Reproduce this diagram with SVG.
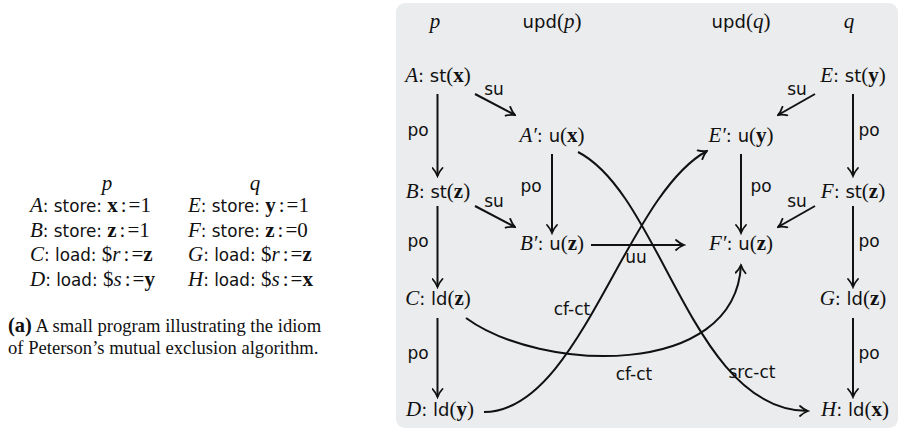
<svg xmlns="http://www.w3.org/2000/svg" width="900" height="431" viewBox="0 0 900 431">
<style>
.mi{font-family:"Liberation Serif",serif;font-style:italic}
.rm{font-family:"Liberation Serif",serif}
.bf{font-family:"Liberation Serif",serif;font-weight:bold}
.sf{font-family:"DejaVu Sans","Liberation Sans",sans-serif}
.node{font-size:21px;fill:#111}
.node .sf{font-size:18px}
.hdr{font-size:21px;fill:#111}
.hdr .sf{font-size:18px}
.lbl{font-family:"DejaVu Sans","Liberation Sans",sans-serif;font-size:17px;fill:#111}
.prog{font-size:21px;fill:#111}
.prog .sf{font-size:16.8px}
.cap{font-family:"Liberation Serif",serif;font-size:18.6px;fill:#111}
.e{fill:none;stroke:#111;stroke-width:2;marker-end:url(#ah)}
</style>
<defs>
<marker id="ah" viewBox="0 0 12 12" refX="10.5" refY="6" markerWidth="12" markerHeight="12" markerUnits="userSpaceOnUse" orient="auto">
<path d="M2.5,1 Q6,4.3 10.5,6 Q6,7.7 2.5,11" fill="none" stroke="#111" stroke-width="1.8" stroke-linecap="round"/>
</marker>
</defs>

<g id="program">
<text class="prog mi" x="107" y="190" text-anchor="middle">p</text>
<text class="prog mi" x="255" y="190" text-anchor="middle">q</text>
<text class="prog" x="30" y="212"><tspan class="mi">A</tspan><tspan class="sf">: store: </tspan><tspan class="bf">x</tspan><tspan class="rm" dx="3">:</tspan><tspan class="rm" dx="2">=1</tspan></text>
<text class="prog" x="30" y="236.5"><tspan class="mi">B</tspan><tspan class="sf">: store: </tspan><tspan class="bf">z</tspan><tspan class="rm" dx="3">:</tspan><tspan class="rm" dx="2">=1</tspan></text>
<text class="prog" x="30" y="261"><tspan class="mi">C</tspan><tspan class="sf">: load: </tspan><tspan class="rm">$</tspan><tspan class="mi">r</tspan><tspan class="rm" dx="3">:</tspan><tspan class="rm" dx="2">=</tspan><tspan class="bf">z</tspan></text>
<text class="prog" x="30" y="285.5"><tspan class="mi">D</tspan><tspan class="sf">: load: </tspan><tspan class="rm">$</tspan><tspan class="mi">s</tspan><tspan class="rm" dx="3">:</tspan><tspan class="rm" dx="2">=</tspan><tspan class="bf">y</tspan></text>
<text class="prog" x="188" y="212"><tspan class="mi">E</tspan><tspan class="sf">: store: </tspan><tspan class="bf">y</tspan><tspan class="rm" dx="3">:</tspan><tspan class="rm" dx="2">=1</tspan></text>
<text class="prog" x="188" y="236.5"><tspan class="mi">F</tspan><tspan class="sf">: store: </tspan><tspan class="bf">z</tspan><tspan class="rm" dx="3">:</tspan><tspan class="rm" dx="2">=0</tspan></text>
<text class="prog" x="188" y="261"><tspan class="mi">G</tspan><tspan class="sf">: load: </tspan><tspan class="rm">$</tspan><tspan class="mi">r</tspan><tspan class="rm" dx="3">:</tspan><tspan class="rm" dx="2">=</tspan><tspan class="bf">z</tspan></text>
<text class="prog" x="188" y="285.5"><tspan class="mi">H</tspan><tspan class="sf">: load: </tspan><tspan class="rm">$</tspan><tspan class="mi">s</tspan><tspan class="rm" dx="3">:</tspan><tspan class="rm" dx="2">=</tspan><tspan class="bf">x</tspan></text>
<text class="cap" x="8" y="332"><tspan font-weight="bold" font-size="20.5">(a)</tspan> A small program illustrating the idiom</text>
<text class="cap" x="8" y="354">of Peterson’s mutual exclusion algorithm.</text>
</g>

<rect x="396" y="3" width="502" height="425" rx="9" fill="#ebeced"/>

<g id="headers">
<text class="hdr mi" x="435" y="28" text-anchor="middle">p</text>
<text class="hdr" x="552" y="28" text-anchor="middle"><tspan class="sf">upd</tspan><tspan class="rm">(</tspan><tspan class="mi">p</tspan><tspan class="rm">)</tspan></text>
<text class="hdr" x="741" y="28" text-anchor="middle"><tspan class="sf">upd</tspan><tspan class="rm">(</tspan><tspan class="mi">q</tspan><tspan class="rm">)</tspan></text>
<text class="hdr mi" x="849" y="28" text-anchor="middle">q</text>
</g>

<g id="nA"><text class="node" x="438" y="82" text-anchor="middle"><tspan class="mi">A</tspan><tspan class="sf">: st</tspan><tspan class="rm">(</tspan><tspan class="bf">x</tspan><tspan class="rm">)</tspan></text></g>
<g id="nB"><text class="node" x="438" y="198" text-anchor="middle"><tspan class="mi">B</tspan><tspan class="sf">: st</tspan><tspan class="rm">(</tspan><tspan class="bf">z</tspan><tspan class="rm">)</tspan></text></g>
<g id="nC"><text class="node" x="438" y="305" text-anchor="middle"><tspan class="mi">C</tspan><tspan class="sf">: ld</tspan><tspan class="rm">(</tspan><tspan class="bf">z</tspan><tspan class="rm">)</tspan></text></g>
<g id="nD"><text class="node" x="440" y="416" text-anchor="middle"><tspan class="mi">D</tspan><tspan class="sf">: ld</tspan><tspan class="rm">(</tspan><tspan class="bf">y</tspan><tspan class="rm">)</tspan></text></g>
<g id="nA1"><text class="node" x="552" y="142" text-anchor="middle"><tspan class="mi">A′</tspan><tspan class="sf">: u</tspan><tspan class="rm">(</tspan><tspan class="bf">x</tspan><tspan class="rm">)</tspan></text></g>
<g id="nB1"><text class="node" x="552" y="250" text-anchor="middle"><tspan class="mi">B′</tspan><tspan class="sf">: u</tspan><tspan class="rm">(</tspan><tspan class="bf">z</tspan><tspan class="rm">)</tspan></text></g>
<g id="nE1"><text class="node" x="741" y="142" text-anchor="middle"><tspan class="mi">E′</tspan><tspan class="sf">: u</tspan><tspan class="rm">(</tspan><tspan class="bf">y</tspan><tspan class="rm">)</tspan></text></g>
<g id="nF1"><text class="node" x="741" y="250" text-anchor="middle"><tspan class="mi">F′</tspan><tspan class="sf">: u</tspan><tspan class="rm">(</tspan><tspan class="bf">z</tspan><tspan class="rm">)</tspan></text></g>
<g id="nE"><text class="node" x="853" y="82" text-anchor="middle"><tspan class="mi">E</tspan><tspan class="sf">: st</tspan><tspan class="rm">(</tspan><tspan class="bf">y</tspan><tspan class="rm">)</tspan></text></g>
<g id="nF"><text class="node" x="853" y="198" text-anchor="middle"><tspan class="mi">F</tspan><tspan class="sf">: st</tspan><tspan class="rm">(</tspan><tspan class="bf">z</tspan><tspan class="rm">)</tspan></text></g>
<g id="nG"><text class="node" x="853" y="305" text-anchor="middle"><tspan class="mi">G</tspan><tspan class="sf">: ld</tspan><tspan class="rm">(</tspan><tspan class="bf">z</tspan><tspan class="rm">)</tspan></text></g>
<g id="nH"><text class="node" x="855" y="416" text-anchor="middle"><tspan class="mi">H</tspan><tspan class="sf">: ld</tspan><tspan class="rm">(</tspan><tspan class="bf">x</tspan><tspan class="rm">)</tspan></text></g>

<g id="edges">
<path class="e" d="M437.5,94 V176"/>
<path class="e" d="M437.5,206 V287"/>
<path class="e" d="M437.5,318 V397"/>
<path class="e" d="M552,154 V233"/>
<path class="e" d="M741,154 V233"/>
<path class="e" d="M853,94 V176"/>
<path class="e" d="M853,206 V287"/>
<path class="e" d="M853,318 V397"/>
<path class="e" d="M475,94 L515,115"/>
<path class="e" d="M475,206 L515,227"/>
<path class="e" d="M815,94 L778,115"/>
<path class="e" d="M815,206 L778,227"/>
<path class="e" d="M591,245 H684"/>
<path class="e" d="M484,412 C580,412 625,195 707,151"/>
<path class="e" d="M466,318 C540,372 735,380 741,265"/>
<path class="e" d="M578,152 C662,195 692,411 808,411"/>

<text class="lbl" x="418" y="136" text-anchor="middle">po</text>
<text class="lbl" x="418" y="247" text-anchor="middle">po</text>
<text class="lbl" x="418" y="359" text-anchor="middle">po</text>
<text class="lbl" x="531" y="192" text-anchor="middle">po</text>
<text class="lbl" x="761" y="192" text-anchor="middle">po</text>
<text class="lbl" x="869" y="136" text-anchor="middle">po</text>
<text class="lbl" x="869" y="247" text-anchor="middle">po</text>
<text class="lbl" x="869" y="359" text-anchor="middle">po</text>
<text class="lbl" x="494" y="95" text-anchor="middle">su</text>
<text class="lbl" x="494" y="207" text-anchor="middle">su</text>
<text class="lbl" x="797" y="95" text-anchor="middle">su</text>
<text class="lbl" x="797" y="207" text-anchor="middle">su</text>
<text class="lbl" x="636" y="263" text-anchor="middle">uu</text>
<text class="lbl" x="572" y="315" text-anchor="middle">cf-ct</text>
<text class="lbl" x="634" y="380" text-anchor="middle">cf-ct</text>
<text class="lbl" x="752" y="378" text-anchor="middle">src-ct</text>
</g>
</svg>
